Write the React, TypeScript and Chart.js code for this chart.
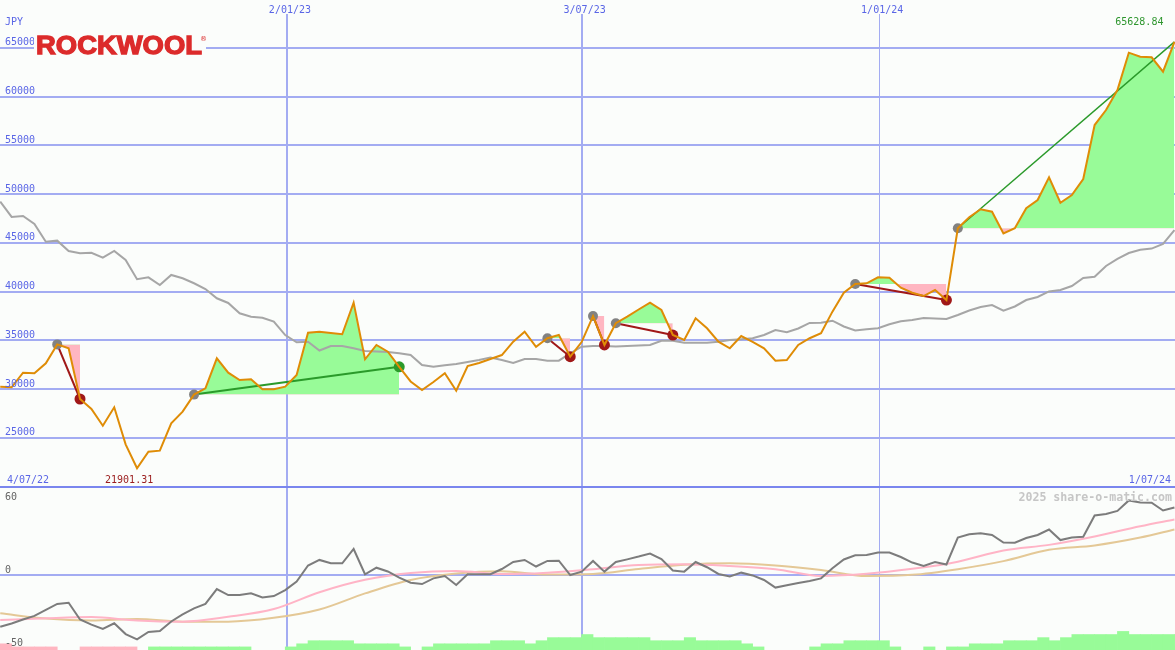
import React, { useEffect, useRef } from 'react';
import { Chart, registerables } from 'chart.js';

Chart.register(...registerables);

// ---------- DATA ----------
// weekly closes (JPY), index 0 = first week shown
const price = [
  30260, 30200, 31700, 31640, 32660, 34600, 34200, 29000, 27970, 26260,
  28150, 24350, 21901.31, 23600, 23700, 26500, 27700, 29450, 30100, 33170,
  31700, 30950, 31020, 30000, 30000, 30260, 31460, 35800, 35900, 35770,
  35640, 38880, 33070, 34540, 33850, 32300, 30800, 29920, 30740, 31640,
  29850, 32380, 32690, 33100, 33510, 34880, 35900, 34360, 35230, 35560,
  33340, 34840, 37500, 34540, 36770, 37440, 38180, 38880, 38130, 35560,
  35050, 37280, 36250, 34880, 34200, 35460, 34850, 34200, 32930, 33000,
  34540, 35230, 35740, 37960, 39900, 40800, 40870, 41480, 41440, 40420,
  39900, 39560, 40180, 39150, 46510, 47640, 48460, 48210, 45990, 46510,
  48560, 49410, 51740, 49130, 49920, 51560, 57100, 58640, 60690, 64520,
  64110, 64050, 62570, 65628.84,
];

const movingAvg = [
  49240, 47670, 47770, 46950, 45130, 45240, 44180, 43940, 44000, 43490,
  44180, 43260, 41280, 41480, 40690, 41720, 41380, 40870, 40280, 39330,
  38850, 37790, 37440, 37340, 36930, 35560, 34820, 34880, 33970, 34440,
  34440, 34200, 33920, 33870, 33820, 33700, 33510, 32490, 32310, 32460,
  32590, 32800, 33000, 33260, 33000, 32690, 33100, 33100, 32930, 32930,
  33690, 34360, 34440, 34440, 34390, 34440, 34490, 34540, 34980, 34980,
  34770, 34770, 34770, 34880, 35050, 35120, 35230, 35560, 36080, 35840,
  36230, 36800, 36830, 37030, 36440, 36030, 36150, 36250, 36660, 36970,
  37100, 37310, 37260, 37210, 37620, 38080, 38440, 38640, 38060, 38490,
  39150, 39460, 40030, 40180, 40590, 41410, 41540, 42640, 43360, 43970,
  44310, 44430, 44900, 46330,
];

const oscMomentum = [
  -35.6, -33.4, -30.6, -28.2, -24.1, -20.0, -19.2, -30.6, -34.1, -37.1,
  -33.2, -40.6, -44.2, -39.2, -38.5, -32.0, -27.2, -23.0, -20.0, -9.8,
  -13.9, -13.9, -12.7, -15.5, -14.6, -10.5, -4.7, 6.3, 10.1, 7.8,
  7.8, 17.6, 0.3, 4.8, 2.2, -2.0, -5.5, -6.4, -2.5, -0.9,
  -7.0, 0.3, 0.3, 0.3, 3.9, 8.7, 10.1, 5.6, 9.4, 9.6,
  -0.2, 2.1, 9.4, 2.1, 8.7, 10.5, 12.4, 14.5, 10.7, 2.9,
  2.1, 8.7, 5.1, 0.5, -1.2, 1.4, -0.5, -3.6, -8.8, -7.2,
  -5.7, -4.3, -2.5, 4.4, 10.4, 13.3, 13.5, 15.2, 15.2, 12.1,
  8.3, 6.0, 8.7, 7.0, 25.4, 27.6, 28.3, 27.2, 22.0, 21.9,
  25.1, 27.2, 30.9, 23.7, 25.4, 26.0, 40.5, 41.5, 43.6, 50.8,
  49.4, 49.2, 43.9, 46.0,
];

const oscSmoothWeeks = [0, 4, 8, 12, 16, 20, 24, 28, 32, 36, 40, 44, 48, 52, 56, 60, 64, 68, 72, 76, 80, 84, 88, 92, 96, 100, 103];
const oscPink = [-31.0, -29.8, -29.0, -31.3, -32.1, -28.8, -23.5, -12.0, -3.5, 1.1, 2.5, 0.4, 1.4, 3.8, 6.6, 7.2, 6.0, 3.8, -0.8, 0.6, 4.0, 8.9, 16.6, 20.4, 26.1, 33.2, 37.8];
const oscTan = [-26.4, -30.0, -31.3, -30.3, -32.1, -32.1, -29.5, -23.8, -12.8, -3.6, 0.8, 2.3, 0.1, 0.5, 3.9, 6.8, 7.8, 6.3, 3.2, -0.9, -0.1, 3.8, 9.3, 17.0, 20.0, 25.4, 30.9];

// weekly signal strength (negative = bearish, pink; positive = bullish, green)
const signalBars = [
  -2, -1, -1, -1, -1, 0, 0, -1, -1, -1,
  -1, -1, 0, 1, 1, 1, 1, 1, 1, 1,
  1, 1, 0, 0, 0, 1, 2, 3, 3, 3,
  3, 2, 2, 2, 2, 1, 0, 1, 2, 2,
  2, 2, 2, 3, 3, 3, 2, 3, 4, 4,
  4, 5, 4, 4, 4, 4, 4, 3, 3, 3,
  4, 3, 3, 3, 3, 2, 1, 0, 0, 0,
  0, 1, 2, 2, 3, 3, 3, 3, 1, 0,
  0, 1, 0, 1, 1, 2, 2, 2, 3, 3,
  3, 4, 3, 4, 5, 5, 5, 5, 6, 5,
  5, 5, 5, 5,
];

const tradeEntries = [5, 17, 48, 52, 54, 75, 84];
const tradeExits = [7, 35, 50, 53, 59, 83, 103];
const tradeOpen = [false, false, false, false, false, false, true];

const dateGridLabels = ['2/01/23', '3/07/23', '1/01/24'];
const dateGridWeeks = [25.15, 51.0, 77.1];
const startDateLabel = '4/07/22';
const endDateLabel = '1/07/24';
const priceGridValues = [20000, 25000, 30000, 35000, 40000, 45000, 50000, 55000, 60000, 65000];
const priceTickLabels = ['25000', '30000', '35000', '40000', '45000', '50000', '55000', '60000', '65000'];
const oscTickValues = [60, 0, -50];
const currencyLabel = 'JPY';
const brandName = 'ROCKWOOL';
const watermark = '2025 share-o-matic.com';

// ---------- STYLE ----------
const BG = '#fbfdfb';
const GRID = '#a3acf2';
const BORDER_BLUE = '#7a86ee';
const TICK_BLUE = '#5a66e6';
const ORANGE = '#df8c06';
const MA_GRAY = '#a6a6a6';
const FILL_GREEN = '#98fb98';
const FILL_PINK = '#ffb6c1';
const LOSS_RED = '#a01818';
const WIN_GREEN = '#2a9a2a';
const ENTRY_GRAY = '#828282';
const OSC_GRAY = '#7c7c7c';
const OSC_PINK = '#ffb4c6';
const OSC_TAN = '#e4c896';
const FONT = '10px "DejaVu Sans Mono", monospace';

const X_MIN = -0.02;
const X_MAX = 103.05;
const PRICE_TOP = 69923;
const PRICE_BOTTOM = 3256;
const OSC_TOP = 393.1;
const OSC_BOTTOM = -51.5;
const BAR_TOP = 210;

export default function App() {
  const ref = useRef<HTMLCanvasElement>(null);

  useEffect(() => {
    document.body.style.margin = '0';
    const canvas = ref.current;
    if (!canvas) return;

    const xy = (k: number, v: number) => ({ x: k, y: v });
    const priceData = price.map((v, k) => xy(k, v));
    const maData = movingAvg.map((v, k) => xy(k, v));
    const momData = oscMomentum.map((v, k) => xy(k, v));
    const pinkData = oscSmoothWeeks.map((k, i) => xy(k, oscPink[i]));
    const tanData = oscSmoothWeeks.map((k, i) => xy(k, oscTan[i]));

    const barPts: any[] = [];
    const barCols: string[] = [];
    signalBars.forEach((s, k) => {
      if (s !== 0) {
        barPts.push({ x: k + 0.5, y: Math.abs(s) });
        barCols.push(s < 0 ? FILL_PINK : FILL_GREEN);
      }
    });

    const trades = tradeEntries.map((e, i) => {
      const x = tradeExits[i];
      return { e, x, win: price[x] > price[e], open: tradeOpen[i] };
    });

    const fillSets = trades.map((t) => ({
      type: 'line',
      data: price.slice(t.e, t.x + 1).map((v, j) => xy(t.e + j, v)),
      borderWidth: 0,
      borderColor: 'transparent',
      pointRadius: 0,
      fill: { target: { value: price[t.e] }, above: FILL_GREEN, below: FILL_PINK },
      yAxisID: 'y',
      order: 6,
    }));

    const tradeLines = trades.map((t) => ({
      type: 'line',
      data: [xy(t.e, price[t.e]), xy(t.x, price[t.x])],
      borderColor: t.win ? WIN_GREEN : LOSS_RED,
      borderWidth: t.open ? 1.4 : 2,
      pointRadius: 0,
      fill: false,
      yAxisID: 'y',
      order: 4,
    }));

    const entryDots = {
      type: 'line',
      data: trades.map((t) => xy(t.e, price[t.e])),
      showLine: false,
      pointRadius: 5,
      pointBorderWidth: 0,
      pointBackgroundColor: ENTRY_GRAY,
      yAxisID: 'y',
      order: 3,
    };
    const closed = trades.filter((t) => !t.open);
    const exitDots = {
      type: 'line',
      data: closed.map((t) => xy(t.x, price[t.x])),
      showLine: false,
      pointRadius: 5.5,
      pointBorderWidth: 0,
      pointBackgroundColor: closed.map((t) => (t.win ? WIN_GREEN : LOSS_RED)),
      yAxisID: 'y',
      order: 3,
    };

    const minVal = Math.min(...price);
    const maxVal = Math.max(...price);
    const minIdx = price.indexOf(minVal);
    const maxIdx = price.indexOf(maxVal);

    const overlay = {
      id: 'overlay',
      beforeDraw(chart: any) {
        const c = chart.ctx;
        c.save();
        c.fillStyle = BG;
        c.fillRect(0, 0, chart.width, chart.height);
        c.restore();
      },
      afterDraw(chart: any) {
        const c = chart.ctx;
        const xs = chart.scales.x;
        const ys = chart.scales.y;
        const y2 = chart.scales.y2;
        c.save();
        c.font = FONT;
        c.textBaseline = 'alphabetic';

        // top date labels
        dateGridLabels.forEach((lab, i) => {
          const px = xs.getPixelForValue(dateGridWeeks[i]);
          c.fillStyle = BG;
          c.fillRect(px - 2, 0, 4, 14);
          c.fillStyle = TICK_BLUE;
          c.textAlign = 'center';
          c.fillText(lab, px + 3, 13);
        });

        // price tick labels
        c.fillStyle = TICK_BLUE;
        c.textAlign = 'left';
        priceTickLabels.forEach((lab) => {
          c.fillText(lab, 5, ys.getPixelForValue(Number(lab)) - 2.5);
        });
        c.fillText(currencyLabel, 5, 25);
        const baseY = ys.getPixelForValue(priceGridValues[0]) - 4;
        c.fillText(startDateLabel, 7, baseY);
        c.textAlign = 'right';
        c.fillText(endDateLabel, 1171, baseY);

        // min / max labels
        c.textAlign = 'left';
        c.fillStyle = '#9a1c1c';
        c.fillText(minVal.toFixed(2), xs.getPixelForValue(minIdx) - 32, baseY);
        c.textAlign = 'right';
        c.fillStyle = '#2e962e';
        c.fillText(maxVal.toFixed(2), xs.getPixelForValue(maxIdx) - 11, 25);

        // oscillator labels
        c.textAlign = 'left';
        c.fillStyle = '#646464';
        oscTickValues.forEach((v, i) => {
          const py = y2.getPixelForValue(v);
          c.fillText(String(v), 5, i === 0 ? py + 13 : py - 2);
        });

        // watermark
        c.font = 'bold 11.6px "DejaVu Sans Mono", monospace';
        c.fillStyle = '#c6c6c6';
        c.textAlign = 'right';
        c.fillText(watermark, 1172, 500.5);

        // logo
        c.fillStyle = BG;
        c.fillRect(34, 33, 172, 23);
        c.fillStyle = '#dc2b2b';
        c.strokeStyle = '#dc2b2b';
        c.lineWidth = 1.3;
        c.lineJoin = 'miter';
        c.font = 'bold 26px "Liberation Sans", Arial, sans-serif';
        c.textAlign = 'left';
        const w = c.measureText(brandName).width;
        c.save();
        c.translate(36, 53.5);
        c.scale(166 / w, 1);
        c.fillText(brandName, 0, 0);
        c.strokeText(brandName, 0, 0);
        c.restore();
        c.font = '7px "DejaVu Sans", sans-serif';
        c.fillText('\u00AE', 200, 41);
        c.restore();
      },
    };

    const chart = new Chart(canvas, {
      type: 'line',
      data: {
        datasets: [
          {
            type: 'line',
            data: priceData,
            borderColor: ORANGE,
            borderWidth: 2,
            pointRadius: 0,
            tension: 0,
            fill: false,
            yAxisID: 'y',
            order: 0,
          },
          entryDots,
          exitDots,
          ...tradeLines,
          {
            type: 'line',
            data: maData,
            borderColor: MA_GRAY,
            borderWidth: 2,
            pointRadius: 0,
            tension: 0,
            fill: false,
            yAxisID: 'y',
            order: 5,
          },
          ...fillSets,
          {
            type: 'line',
            data: momData,
            borderColor: OSC_GRAY,
            borderWidth: 2,
            pointRadius: 0,
            tension: 0,
            fill: false,
            yAxisID: 'y2',
            order: 7,
          },
          {
            type: 'line',
            data: pinkData,
            borderColor: OSC_PINK,
            borderWidth: 2,
            pointRadius: 0,
            cubicInterpolationMode: 'monotone',
            fill: false,
            yAxisID: 'y2',
            order: 8,
          },
          {
            type: 'line',
            data: tanData,
            borderColor: OSC_TAN,
            borderWidth: 2,
            pointRadius: 0,
            cubicInterpolationMode: 'monotone',
            fill: false,
            yAxisID: 'y2',
            order: 9,
          },
          {
            type: 'bar',
            data: barPts,
            backgroundColor: barCols,
            borderWidth: 0,
            barPercentage: 1,
            categoryPercentage: 1,
            yAxisID: 'yb',
            order: 10,
          },
        ] as any,
      },
      options: {
        responsive: false,
        animation: false,
        devicePixelRatio: 1,
        events: [],
        layout: { padding: 0, autoPadding: false },
        plugins: {
          legend: { display: false },
          tooltip: { enabled: false },
          title: { display: false },
        },
        scales: {
          x: {
            type: 'linear',
            min: X_MIN,
            max: X_MAX,
            offset: false,
            display: true,
            border: { display: false },
            ticks: { display: false },
            grid: {
              offset: false,
              drawTicks: false,
              color: GRID,
              lineWidth: (ctx: any) => (ctx.tick && ctx.tick.value === dateGridWeeks[2] ? 1 : 2),
            },
            afterBuildTicks: (s: any) => {
              s.ticks = dateGridWeeks.map((v) => ({ value: v }));
            },
          },
          y: {
            type: 'linear',
            position: 'left',
            min: PRICE_BOTTOM,
            max: PRICE_TOP,
            display: true,
            border: { display: false },
            ticks: { display: false },
            grid: {
              drawTicks: false,
              lineWidth: 2,
              color: (ctx: any) => (ctx.tick && ctx.tick.value === priceGridValues[0] ? BORDER_BLUE : GRID),
            },
            afterBuildTicks: (s: any) => {
              s.ticks = priceGridValues.map((v) => ({ value: v }));
            },
          },
          y2: {
            type: 'linear',
            position: 'left',
            min: OSC_BOTTOM,
            max: OSC_TOP,
            display: true,
            border: { display: false },
            ticks: { display: false },
            grid: { drawTicks: false, lineWidth: 2, color: GRID },
            afterBuildTicks: (s: any) => {
              s.ticks = [{ value: 0 }];
            },
          },
          yb: {
            type: 'linear',
            min: 0,
            max: BAR_TOP,
            display: false,
          },
        },
      } as any,
      plugins: [overlay],
    } as any);

    return () => chart.destroy();
  }, []);

  return (
    <div style={{ position: 'relative', width: 1175, height: 650 }}>
      <canvas ref={ref} width={1175} height={650} style={{ display: 'block', width: 1175, height: 650 }} />
    </div>
  );
}
